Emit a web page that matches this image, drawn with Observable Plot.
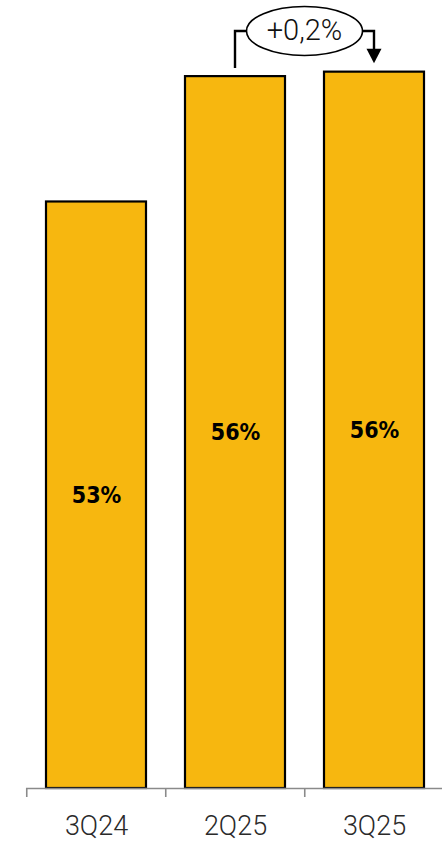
<!DOCTYPE html>
<html>
<head>
<meta charset="utf-8">
<script src="https://cdn.jsdelivr.net/npm/d3@7"></script>
<script src="https://cdn.jsdelivr.net/npm/@observablehq/plot@0.6"></script>
<style>
  html, body { margin: 0; padding: 0; background: #fff; }
  #chart svg { display: block; }
</style>
</head>
<body>
<div id="chart"></div>
<script>
// Data
const categories = ["3Q24", "2Q25", "3Q25"];
const values = [53.1, 55.9, 56.0];
const valueLabels = ["53%", "56%", "56%"];
const baseline = 40;
const changeFrom = "2Q25";
const changeTo = "3Q25";
const changeText = "+0,2%";

const data = categories.map((c, i) => ({cat: c, value: values[i], label: valueLabels[i]}));

const W = 442, H = 843, mL = 26, mR = -2.5, mB = 55, mT = 0;
const step = (W - mL - mR) / categories.length;

const plot = Plot.plot({
  width: W,
  height: H,
  marginLeft: mL,
  marginRight: mR,
  marginTop: mT,
  marginBottom: mB,
  style: {fontFamily: "Roboto, 'DejaVu Sans', sans-serif", background: "#fff", overflow: "visible"},
  x: {domain: categories, paddingInner: 0.283, paddingOuter: 0.1415, axis: null, label: null},
  y: {domain: [baseline, 57.6], axis: null},
  marks: [
    Plot.barY(data, {x: "cat", y1: baseline, y2: "value", fill: "#F7B70F", stroke: "#000", strokeWidth: 2.2}),
    Plot.ruleY([baseline], {stroke: "#8a8a8a", strokeWidth: 1.6}),
    Plot.axisX({tickSize: 9, tickFormat: () => "", label: null, dx: -step / 2, stroke: "#8a8a8a", strokeWidth: 1.6}),
    Plot.axisX({tickSize: 0, tickPadding: 27, label: null, fontSize: 27, fill: "#2a2a2a", fontWeight: 300}),
    Plot.text(data, {
      x: "cat",
      y: d => (d.value + baseline) / 2,
      text: "label",
      fontSize: 23,
      fontWeight: "bold",
      fill: "#000",
      fontFamily: "'DejaVu Sans Condensed', 'DejaVu Sans', sans-serif"
    })
  ]
});

document.getElementById("chart").appendChild(plot);

// Annotation built from the plot's scales
const xs = plot.scale("x"), ys = plot.scale("y");
const bw = xs.bandwidth;
const i2 = categories.indexOf(changeFrom), i3 = categories.indexOf(changeTo);
const x2 = xs.apply(changeFrom) + bw / 2;
const x3 = xs.apply(changeTo) + bw / 2;
const top2 = ys.apply(values[i2]);
const top3 = ys.apply(values[i3]);
const cx = (x2 + x3) / 2, cy = 31, rx = 58, ry = 24.5;

const svg = d3.select(plot);
const g = svg.append("g").attr("fill", "none").attr("stroke", "#000").attr("stroke-width", 2.4);
g.append("path").attr("d", `M${x2},${top2 - 8}V${cy}H${cx - rx}`);
g.append("path").attr("d", `M${cx + rx},${cy}H${x3}V${top3 - 22}`);
svg.append("path")
  .attr("d", `M${x3 - 7.5},${top3 - 23}L${x3 + 7.5},${top3 - 23}L${x3},${top3 - 8.5}Z`)
  .attr("fill", "#000");
svg.append("ellipse")
  .attr("cx", cx).attr("cy", cy).attr("rx", rx).attr("ry", ry)
  .attr("fill", "#fff").attr("stroke", "#000").attr("stroke-width", 1.6);
svg.append("text")
  .attr("x", cx).attr("y", cy + 1.5)
  .attr("text-anchor", "middle").attr("dominant-baseline", "middle")
  .attr("font-size", 29).attr("font-weight", 300).attr("fill", "#111")
  .text(changeText);
</script>
</body>
</html>
